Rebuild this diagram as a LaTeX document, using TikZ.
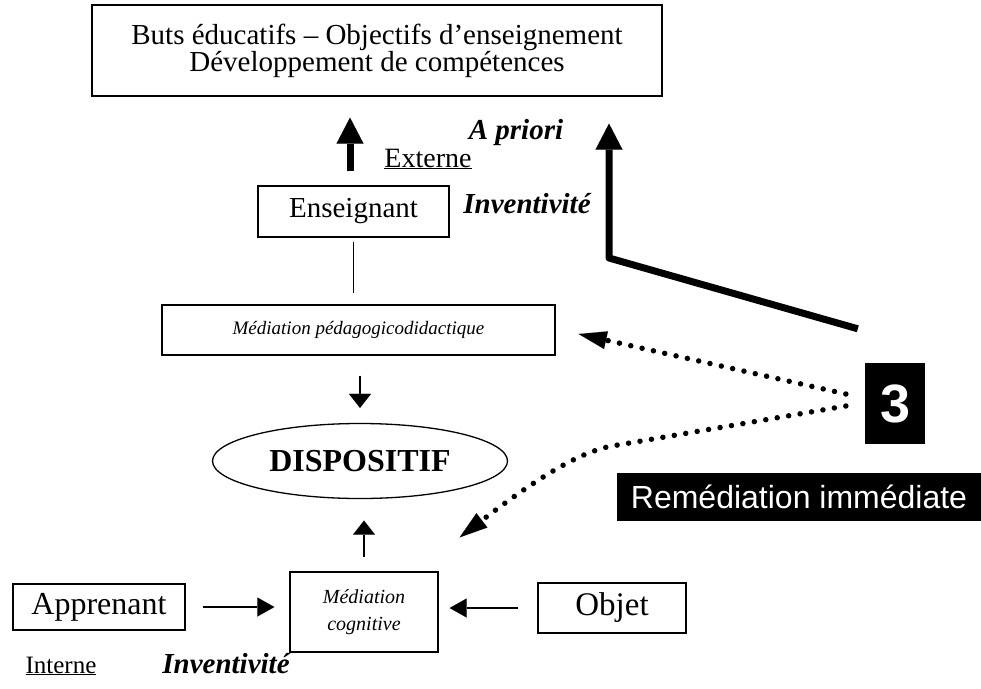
\documentclass[tikz,border=0pt]{standalone}
\usepackage{fontspec}
\setmainfont{Liberation Serif}
\newfontfamily\arialfont{Liberation Sans}
\usetikzlibrary{arrows.meta,shapes.geometric}

\begin{document}
\begin{tikzpicture}[x=1pt,y=-1pt,
  box/.style={draw, line width=1.3pt, rectangle, inner sep=0pt},
  bigtext/.style={font=\fontsize{29}{27}\selectfont},
  bolditalic/.style={font=\bfseries\itshape\fontsize{29}{29}\selectfont},
  smallitalic/.style={font=\itshape\fontsize{19}{27}\selectfont},
  blackbox/.style={fill=black, text=white, inner sep=0pt},
  thinline/.style={line width=1.6pt},
  thinarrow/.style={line width=1.8pt, -{Triangle[length=17pt,width=19pt,line width=0.01pt]}},
  vertarrow/.style={line width=1.8pt, -{Triangle[length=14pt,width=22pt,line width=0.01pt]}},
  thickarrow/.style={line width=7pt, line join=round, -{Triangle[length=26pt,width=27pt,line width=0.01pt]}},
  dotarrow/.style={line width=5.5pt, line cap=round, dash pattern=on 0pt off 11.6pt,
    -{Triangle[length=28pt,width=18pt,line width=0.01pt]}}
]
\useasboundingbox (0,0) rectangle (981,688);

% boxes
\node[box, minimum width=570pt, minimum height=91pt, align=center, bigtext] (goals) at (377,50.5)
  {Buts éducatifs – Objectifs d’enseignement\\Développement de compétences};
\node[box, minimum width=191pt, minimum height=51pt, bigtext] (ens) at (353.5,211.5) {Enseignant};
\node[box, minimum width=393pt, minimum height=50pt, smallitalic] (mped) at (358.5,330) {Médiation pédagogicodidactique};
\node[draw, ellipse, line width=1.3pt, minimum width=295pt, minimum height=75pt, inner sep=0pt,
  font=\bfseries\fontsize{32}{32}\selectfont] (disp) at (360,461) {DISPOSITIF};
\node[box, minimum width=148pt, minimum height=80pt, align=center, font=\itshape\fontsize{20}{27}\selectfont] (mcog) at (364,612) {Médiation\\cognitive};
\node[box, minimum width=172pt, minimum height=46pt, font=\fontsize{32}{32}\selectfont] (app) at (99,607) {Apprenant};
\node[box, minimum width=148pt, minimum height=50pt, font=\fontsize{33}{33}\selectfont] (obj) at (612,608) {Objet};
\node[blackbox, minimum width=60pt, minimum height=81pt, font=\arialfont\bfseries\fontsize{54}{54}\selectfont] (three) at (895,403.5) {3};
\node[blackbox, minimum width=364pt, minimum height=48pt, font=\arialfont\fontsize{32}{32}\selectfont] (remed) at (799,497) {Remédiation immédiate};

% labels
\node[font=\fontsize{28}{28}\selectfont, anchor=base] (ext) at (428,167) {\underline{Externe}};
\node[bolditalic, anchor=base] (apriori) at (516,139) {A priori};
\node[bolditalic, anchor=base] (invup) at (527,213) {Inventivité};
\node[font=\fontsize{25}{25}\selectfont, anchor=base] (intern) at (61,673) {\underline{Interne}};
\node[bolditalic, anchor=base] (invdown) at (226,673) {Inventivité};

% connectors
\draw[thickarrow] ([xshift=-3.5pt,yshift=14pt]ens.north) -- ([xshift=-27pt,yshift=-21pt]goals.south);
\draw[thinline] ([yshift=-4pt]ens.south) -- ([yshift=11pt]mped.north -| ens.south);
\draw[vertarrow] ([yshift=-20pt]mped.south -| disp.north) -- ([yshift=15pt]disp.north);
\draw[vertarrow] ([yshift=14pt]mcog.north) -- ([yshift=-21.5pt]disp.south -| mcog.north);
\draw[thinarrow] ([xshift=17pt]app.east) -- ([xshift=-15pt]mcog.west |- app.east);
\draw[thinarrow] ([xshift=-19pt]obj.west) -- ([xshift=11pt]mcog.east |- obj.west);

% remediation paths
\coordinate (bend) at (609,258);
\path (bend |- goals.south) ++(0,27) coordinate (bendtip);
\draw[thickarrow] ([xshift=-7pt,yshift=34pt]three.north west) -- (bend) -- (bendtip);
\draw[dotarrow] ([xshift=-19pt,yshift=9.5pt]three.west) -- ([xshift=23pt,yshift=-4pt]mped.east);
\coordinate (lowbend) at (612,446);
\coordinate (lowc1) at (580,452);
\coordinate (lowc2) at (540,476);
\draw[dotarrow] ([xshift=-19pt,yshift=-2.5pt]three.west) -- (lowbend)
  .. controls (lowc1) and (lowc2) .. ([xshift=21pt,yshift=34pt]mcog.north east);
\end{tikzpicture}
\end{document}
